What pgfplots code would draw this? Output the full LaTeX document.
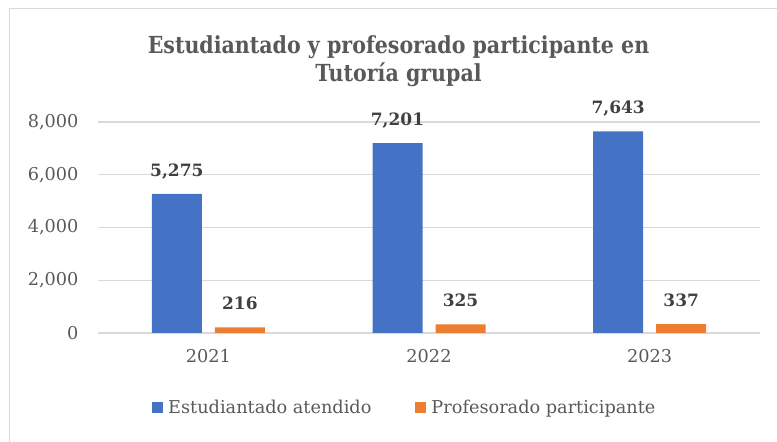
\documentclass[border=0pt]{standalone}
\usepackage{fontspec}
\setmainfont{DejaVu Serif}
\newfontfamily\titlefont{DejaVu Serif}[FakeStretch=0.875]
\usepackage{pgfplots}
\pgfplotsset{compat=1.18}
\definecolor{cblue}{HTML}{4472C4}
\definecolor{corange}{HTML}{ED7D31}
\definecolor{textgray}{HTML}{595959}
\definecolor{labgray}{HTML}{404040}
\definecolor{gridgray}{HTML}{D9D9D9}
\begin{document}
\begin{tikzpicture}[x=1pt,y=1pt]
\useasboundingbox (0,0) rectangle (777,442);
\draw[gridgray, line width=1.5pt] (9.5,0) -- (9.5,433.5) -- (777,433.5);
\node[anchor=base, text=textgray, font=\titlefont\fontsize{23.5}{28}\selectfont\bfseries] at (398.5,388) {Estudiantado y profesorado participante en};
\node[anchor=base, text=textgray, font=\titlefont\fontsize{23.5}{28}\selectfont\bfseries] at (398.5,360) {Tutoría grupal};
\begin{axis}[
  at={(98pt,109pt)}, anchor=south west,
  width=662pt, height=211pt, scale only axis,
  ybar=13pt, bar width=50pt,
  xmin=-0.5, xmax=2.5, ymin=0, ymax=8000,
  xtick={0,1,2}, xticklabels={2021,2022,2023},
  ytick={0,2000,4000,6000,8000},
  axis line style={draw=none},
  major tick length=0pt,
  ymajorgrids, grid style={gridgray, line width=1.2pt},
  tick label style={text=textgray, font=\fontsize{17.7}{20}\selectfont},
  /pgf/number format/assume math mode=true,
  /pgf/number format/1000 sep={,},
  yticklabel style={xshift=-16pt},
  xticklabel style={yshift=-13pt},
  nodes near coords,
  every node near coord/.append style={anchor=base, yshift=17.5pt, text=labgray, font=\fontsize{17}{20}\selectfont\bfseries, /pgf/number format/assume math mode=true},
  legend columns=2,
  legend style={at={(0.462,-0.355)}, anchor=center, draw=none, fill=none,
     nodes={inner sep=0pt, text=textgray, font=\fontsize{17.7}{20}\selectfont},
     /tikz/every even column/.append style={column sep=44pt}},
  legend image code/.code={\fill[#1] (0pt,-5.5pt) rectangle (11pt,5.5pt); \path (16pt,0pt);},
]
\addplot[fill=cblue, draw=none] coordinates {(0,5275) (1,7201) (2,7643)};
\addplot[fill=corange, draw=none] coordinates {(0,216) (1,325) (2,337)};
\legend{Estudiantado atendido, Profesorado participante}
\end{axis}
\end{tikzpicture}
\end{document}
